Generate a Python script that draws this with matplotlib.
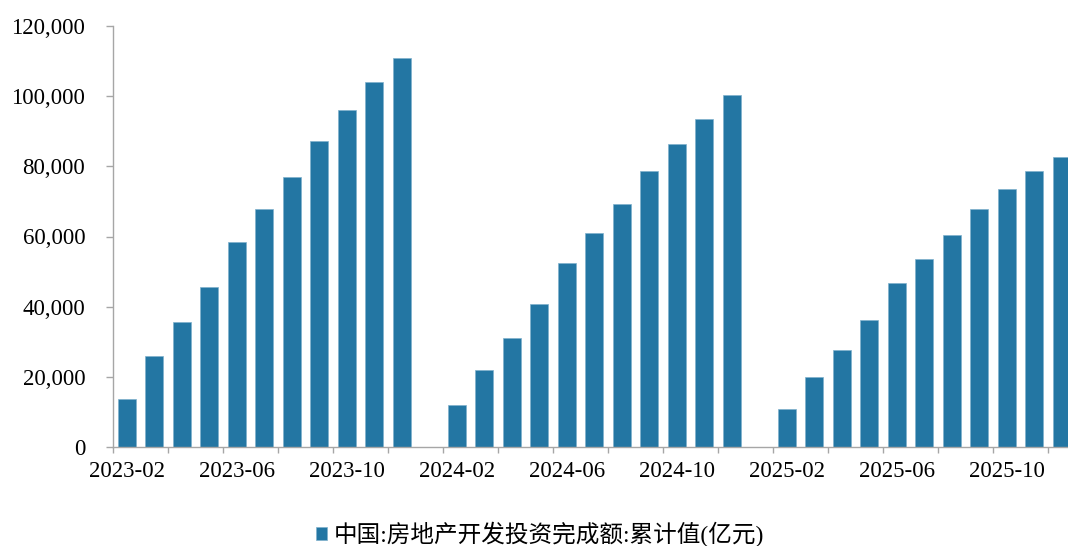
import numpy as np
import pandas as pd
import matplotlib
matplotlib.use('Agg')
from matplotlib import pyplot as plt
from matplotlib.ticker import FuncFormatter, FixedLocator

plt.rcParams['font.family'] = ['Liberation Serif', 'Noto Sans CJK SC']

#%% data (亿元, cumulative year to date; January not published)

inv_2023 = [13669, 25974, 35514, 45701, 58550, 67717, 76900, 87269, 95922, 104045, 110913]
inv_2024 = [11842, 22082, 30928, 40632, 52529, 60877, 69284, 78681, 86309, 93544, 100280]
inv_2025 = [10720, 19904, 27730, 36234, 46658, 53580, 60309, 67706, 73563, 78591, 82788]

months = pd.period_range('2023-02', '2025-12', freq='M').strftime('%Y-%m').tolist()
values = inv_2023 + [np.nan] + inv_2024 + [np.nan] + inv_2025

series_name = '中国:房地产开发投资完成额:累计值(亿元)'

#%%

bar_color = '#2376a3'
axis_color = '#a6a6a6'

fig = plt.figure(figsize=(10.68, 5.46), dpi=100)
ax = fig.add_axes([113 / 1068, 99 / 546, 962.5 / 1068, 421 / 546])

x = np.arange(len(months))
ax.bar(x, values, width=0.67, color=bar_color, edgecolor='#7fb1cd',
       linewidth=0.5, label=series_name)

ax.set_xlim(-0.5, len(months) - 0.5)
ax.set_ylim(0, 120000)
ax.set_yticks(range(0, 120001, 20000))
ax.yaxis.set_major_formatter(FuncFormatter(lambda v, p: f'{int(v):,}'))

# labels every 4 months on the bar, tick marks every 2 months between bars
label_pos = x[::4]
ax.set_xticks(label_pos)
ax.set_xticklabels([months[i] for i in label_pos])
ax.tick_params(axis='x', which='major', length=0, pad=10, labelsize=16.5)
ax.xaxis.set_minor_locator(FixedLocator(np.arange(-0.5, len(months), 2)))
ax.tick_params(axis='x', which='minor', length=4, width=1, color=axis_color, direction='out')
ax.tick_params(axis='y', length=5, width=1, color=axis_color, direction='out',
               pad=15, labelsize=16.5)

for side in ['top', 'right']:
    ax.spines[side].set_visible(False)
for side in ['left', 'bottom']:
    ax.spines[side].set_color(axis_color)
    ax.spines[side].set_linewidth(1)

fig.legend(loc='center', bbox_to_anchor=(540 / 1068, 1 - 534 / 546), frameon=False,
           fontsize=17, handlelength=0.45, handleheight=0.45, handletextpad=0.3)

fig.savefig('out.png', dpi=100)
